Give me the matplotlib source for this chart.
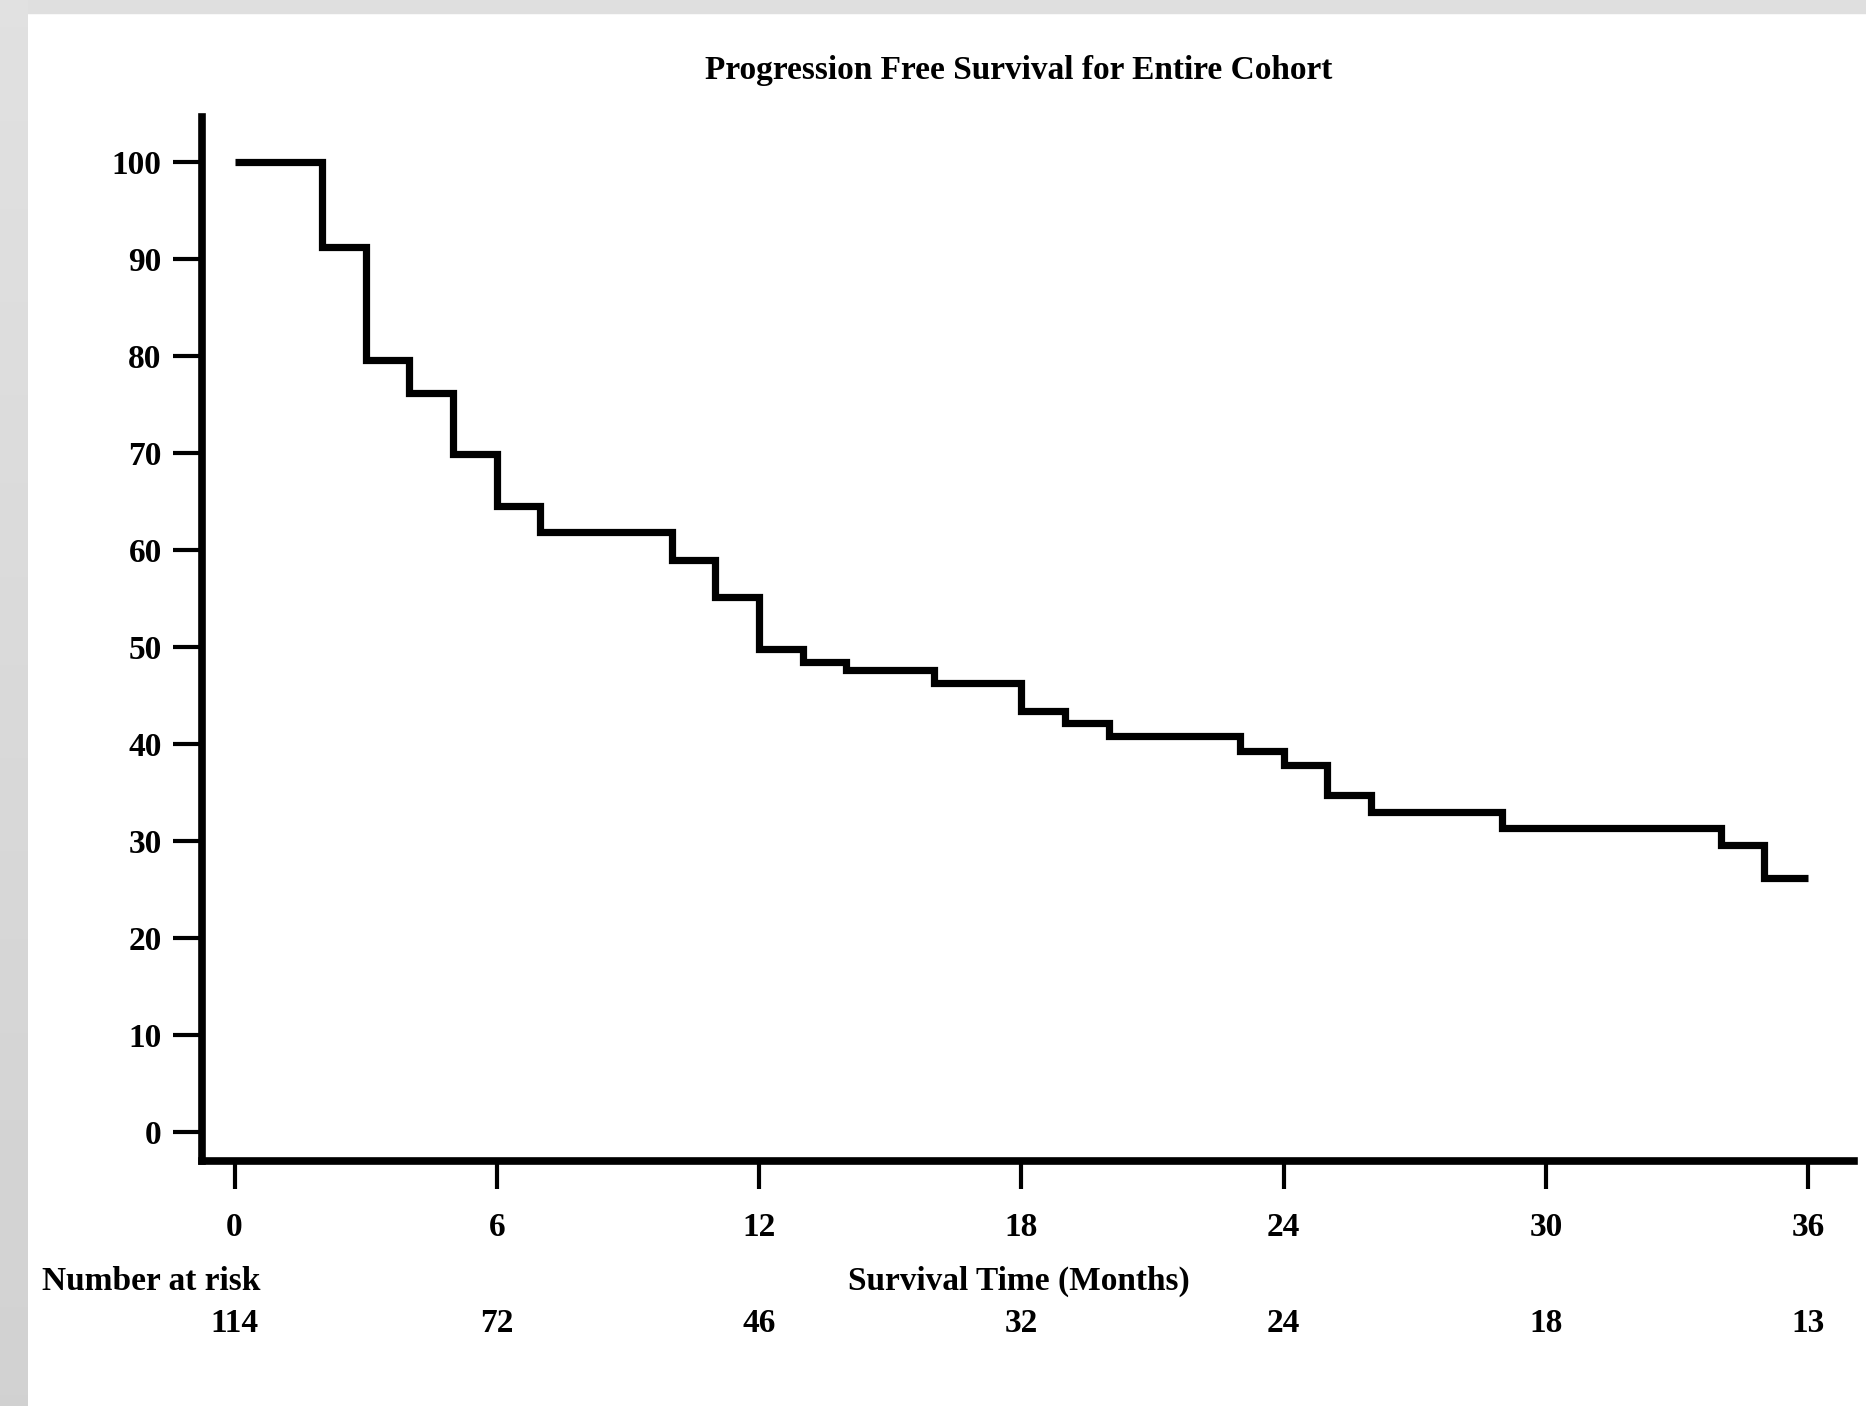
import numpy as np
import matplotlib
matplotlib.use("Agg")
import matplotlib.pyplot as plt
from matplotlib.patches import Rectangle
from matplotlib.transforms import blended_transform_factory

# ---- data ----
times = [0, 2, 3, 4, 5, 6, 7, 10, 11, 12, 13, 14, 16, 18, 19, 20, 23, 24, 25, 26, 29, 34, 35, 36]
surv = [100, 91.2, 79.6, 76.2, 69.9, 64.5, 61.9, 59.0, 55.2, 49.8, 48.5, 47.6, 46.3,
        43.4, 42.2, 40.8, 39.3, 37.8, 34.7, 33.0, 31.3, 29.6, 26.2, 26.2]
x_ticks = [0, 6, 12, 18, 24, 30, 36]
y_ticks = [0, 10, 20, 30, 40, 50, 60, 70, 80, 90, 100]
at_risk = [114, 72, 46, 32, 24, 18, 13]

title = "Progression Free Survival for Entire Cohort"
xlabel = "Survival Time (Months)"
risk_label = "Number at risk"

W, H = 1866, 1406
plt.rcParams['font.family'] = ['Liberation Serif', 'DejaVu Serif']
plt.rcParams['font.weight'] = 'bold'
FS = 24

fig = plt.figure(figsize=(W / 100, H / 100), dpi=100, facecolor='white')

# background frame (grey strips)
bg = fig.add_axes([0, 0, 28 / W, 1])
grad = np.linspace(0.88, 0.82, 256).reshape(-1, 1)
bg.imshow(grad, aspect='auto', cmap='gray', vmin=0, vmax=1, extent=[0, 1, 0, 1], origin='upper')
bg.axis('off')
fig.add_artist(Rectangle((0, 1 - 13 / H), 1, 13 / H, transform=fig.transFigure,
                         color='#dfdfdf', zorder=0))

left, right = 202 / W, 1854 / W
bottom, top = 1 - 1161 / H, 1 - 117 / H
ax = fig.add_axes([left, bottom, right - left, top - bottom])
ax.set_facecolor('none')

ax.step(times, surv, where='post', color='black', lw=5.2,
        solid_joinstyle='miter', solid_capstyle='butt')

ax.set_xlim(-0.744, 37.05)
ax.set_ylim(-2.99, 104.64)
for s in ['top', 'right']:
    ax.spines[s].set_visible(False)
for s in ['left', 'bottom']:
    ax.spines[s].set_linewidth(5.5)
    ax.spines[s].set_capstyle('projecting')

ax.set_xticks(x_ticks)
ax.set_yticks(y_ticks)
ax.set_xticklabels([str(v) for v in x_ticks])
ax.set_yticklabels([str(v) for v in y_ticks])
ax.tick_params(axis='y', direction='out', length=21, width=3, pad=8, labelsize=FS)
ax.tick_params(axis='x', direction='out', length=20, width=3, pad=17, labelsize=FS)
for lab in ax.get_xticklabels() + ax.get_yticklabels():
    lab.set_fontweight('bold')

fig.text(1019 / W, 1 - 71 / H, title, ha='center', va='center', fontsize=FS, fontweight='bold')
fig.text(1019 / W, 1 - 1281 / H, xlabel, ha='center', va='center', fontsize=FS, fontweight='bold')
fig.text(42 / W, 1 - 1281 / H, risk_label, ha='left', va='center', fontsize=FS, fontweight='bold')

tr = blended_transform_factory(ax.transData, fig.transFigure)
for xv, n in zip(x_ticks, at_risk):
    ax.text(xv, 1 - 1323 / H, str(n), transform=tr, ha='center', va='center',
            fontsize=FS, fontweight='bold', clip_on=False)

fig.savefig('out.png', dpi=100, facecolor='white')
